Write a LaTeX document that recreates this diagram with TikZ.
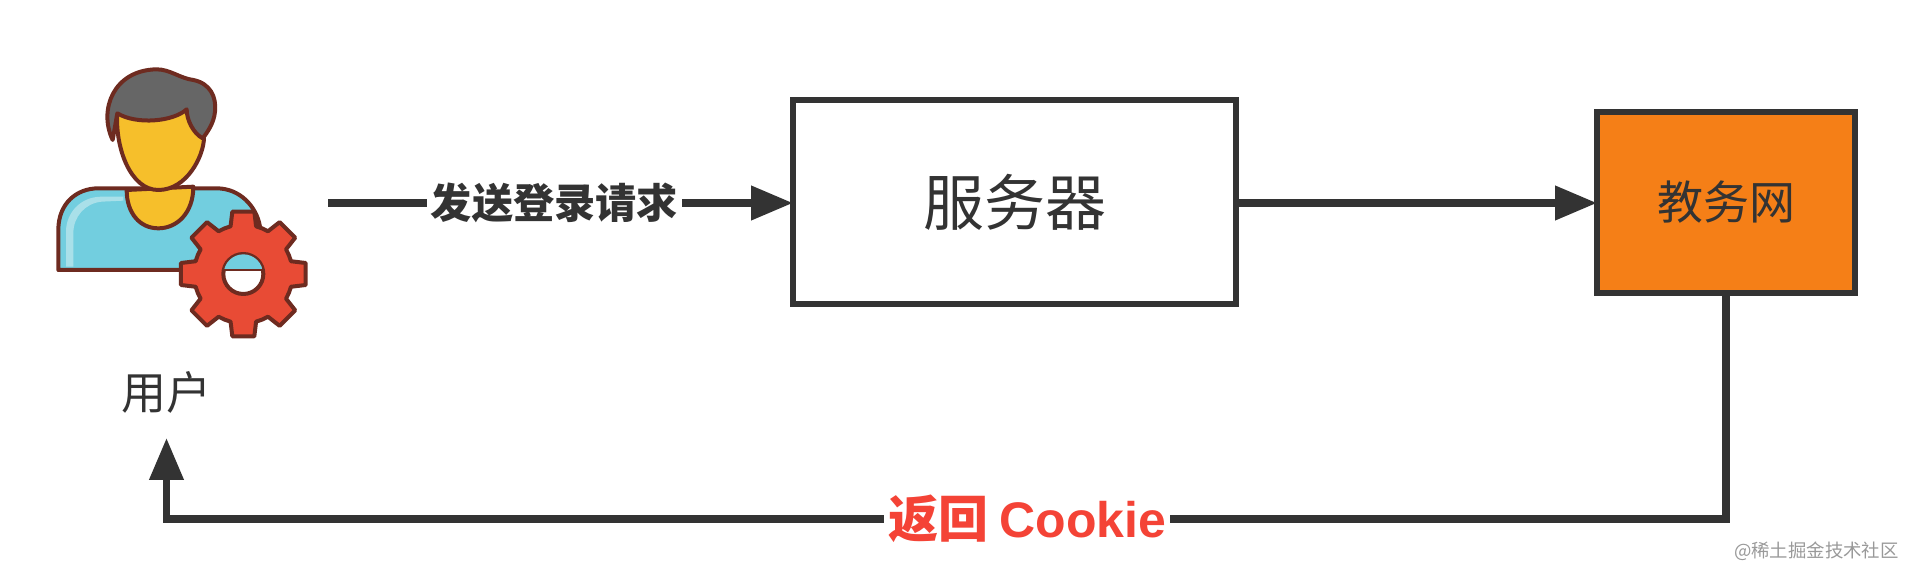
\documentclass[tikz,border=0pt]{standalone}
\usepackage{fontspec}
\setmainfont{Noto Sans CJK SC}
\newfontfamily\latinbold{Liberation Sans}
\usetikzlibrary{arrows.meta}
\definecolor{inkgray}{HTML}{333333}
\definecolor{iconbrown}{HTML}{6E2B20}
\definecolor{shirtblue}{HTML}{72CEDF}
\definecolor{shirtlight}{HTML}{A9E0E9}
\definecolor{skinyellow}{HTML}{F6BF2B}
\definecolor{hairgray}{HTML}{666666}
\definecolor{gearred}{HTML}{E84B35}
\definecolor{portalorange}{HTML}{F57F17}
\definecolor{labelred}{HTML}{F44336}
\tikzset{
    box/.style={draw=inkgray, line width=3pt, text=inkgray, outer sep=0pt, font=\fontsize{30.5}{36}\selectfont},
    link/.style={draw=inkgray, line width=3.7pt, -{Triangle[length=21pt,width=16.5pt]}},
    linklabel/.style={fill=white, inner xsep=2pt, inner ysep=1pt},
    part/.style={draw=iconbrown, line width=2pt, line join=round},
}
\begin{document}
\begin{tikzpicture}[x=0.5pt, y=-0.5pt]
    \useasboundingbox (0,0) rectangle (1906,566);
    \begin{scope}[shift={(30,50)}, scale=1/3]
        \draw [part, fill=shirtblue] (85,660) -- (85,540) .. controls (85,460) and (140,415) .. (205,415)
            -- (560,415) .. controls (630,415) and (680,470) .. (690,530) -- (690,660) -- cycle;
        \fill [shirtlight] (108,650) -- (108,545) .. controls (108,490) and (150,440) .. (215,440) -- (280,440)
            -- (280,452) -- (215,455) .. controls (165,460) and (130,500) .. (130,550) -- (130,650) -- cycle;
        \draw [part, fill=skinyellow] (290,420) .. controls (290,490) and (330,535) .. (385,535)
            .. controls (440,535) and (490,490) .. (490,410) -- cycle;
        \draw [part, fill=skinyellow] (262,190) .. controls (255,290) and (300,420) .. (385,420)
            .. controls (470,420) and (520,320) .. (522,265) -- (470,170) -- cycle;
        \draw [part, fill=hairgray] (248,270) .. controls (205,180) and (250,60) .. (380,58)
            .. controls (420,58) and (450,85) .. (490,90) .. controls (540,100) and (560,140) .. (555,185)
            .. controls (552,220) and (530,250) .. (518,265) .. controls (490,250) and (470,210) .. (470,178)
            .. controls (430,215) and (320,225) .. (262,190) -- cycle;
        \begin{scope}[shift={(640,672)}]
            \coordinate (gearcenter) at (0,0);
            \draw [part, fill=gearred] (-22.5:148)
                \foreach \a in {0,45,...,315} {-- (\a-15:148) -- (\a-10:190) -- (\a+10:190) -- (\a+15:148) -- (\a+22.5:148)} -- cycle;
            \draw [part, fill=white] (gearcenter) circle (60);
            \begin{scope}
                \clip (gearcenter) circle (59);
                \fill [shirtblue] (-60,-60) rectangle (60,-14);
                \fill [iconbrown] (-60,-14) rectangle (60,-8);
            \end{scope}
        \end{scope}
    \end{scope}
    \node [font=\fontsize{22.5}{26}\selectfont, text=inkgray] (user) at (166,392) {用户};
    \node [box, minimum width=443*0.5pt, minimum height=204*0.5pt] (server) at (1014.5,202) {服务器};
    \node [box, fill=portalorange, minimum width=258*0.5pt, minimum height=181*0.5pt, font=\fontsize{23}{28}\selectfont] (portal) at (1726,202.5) {教务网};
    \coordinate (sendstart) at (328,203);
    \coordinate (backcorner) at (166.5,519);
    \coordinate (backend) at (166.5,438);
    \draw [link] (sendstart) -- node [linklabel, pos=0.487, text=inkgray, font=\bfseries\fontsize{20.6}{24}\selectfont] (sendlabel) {发送登录请求} (server.west |- sendstart);
    \draw [link] (server.east |- sendstart) -- (portal.west |- sendstart);
    \draw [link] (portal.south) |- node [linklabel, pos=0.724, text=labelred, font=\bfseries\fontsize{25}{28}\selectfont] (backlabel) {返回 {\latinbold\bfseries Cookie}} (backcorner) -- (backend);
    \node [anchor=east, text=black!40, font=\fontsize{9.2}{11}\selectfont, inner sep=0pt] (mark) at (1899,551) {@稀土掘金技术社区};
\end{tikzpicture}
\end{document}
